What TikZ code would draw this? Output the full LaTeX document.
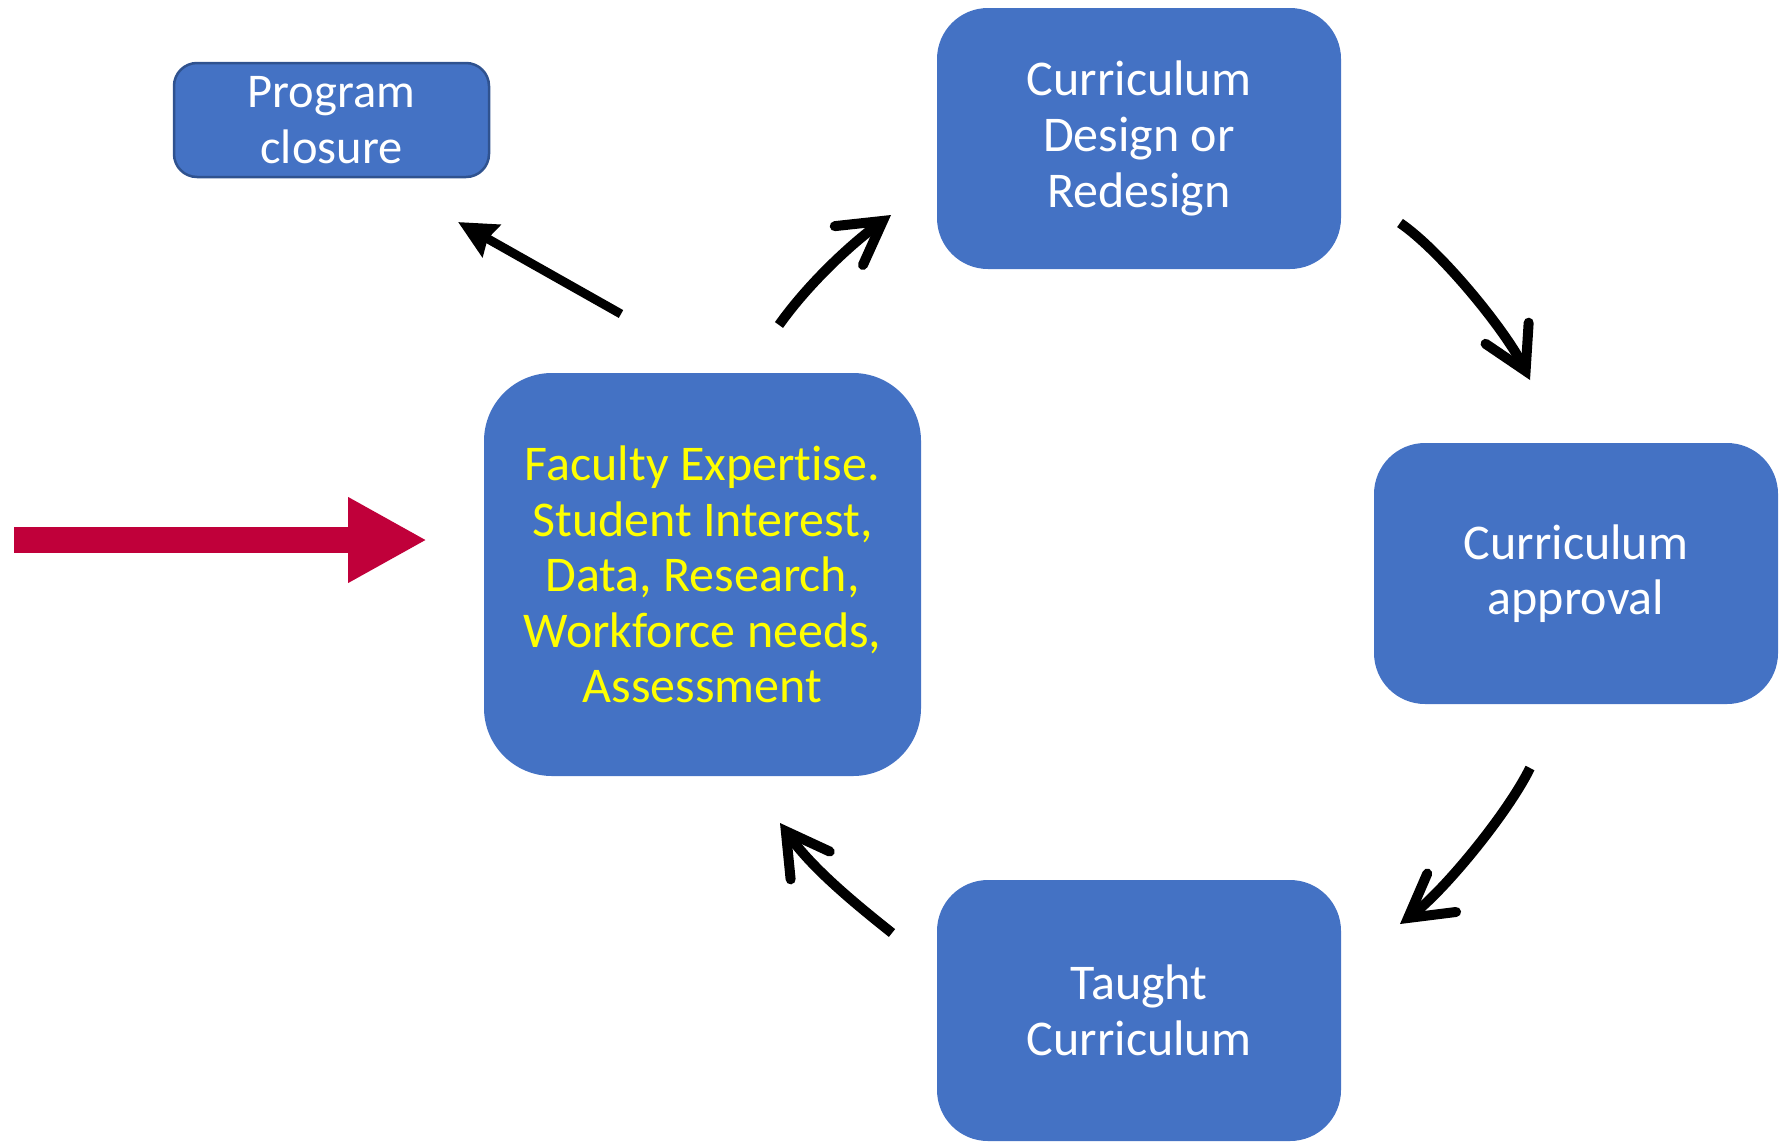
\documentclass[tikz,border=0pt]{standalone}
\usepackage{fontspec}
\setmainfont{Carlito}[Ligatures=NoCommon]
\usetikzlibrary{arrows.meta}
\definecolor{boxblue}{HTML}{4472C4}
\definecolor{boxedge}{HTML}{2F528F}
\definecolor{txtyellow}{HTML}{FFFF00}
\definecolor{crimson}{RGB}{192,0,58}
\tikzset{
  box/.style={rectangle, fill=boxblue, draw=none, inner sep=0pt, align=center,
    text=white, font={\fontsize{50}{55.6}\selectfont}},
  cyc/.style={line width=10pt, draw=black,
    -{Straight Barb[length=42pt,width=48pt,line cap=round,line join=miter]}},
  closearrow/.style={line width=9pt, draw=black, -{Stealth[length=38pt,width=36pt,inset=4pt]}},
  inarrow/.style={line width=26pt, draw=crimson, -{Triangle[length=79pt,width=80pt]}}
}
\begin{document}
\begin{tikzpicture}[x=1pt,y=1pt]
\useasboundingbox (0,0) rectangle (1787,-1141);
% boxes
\node[box, rounded corners=23pt, draw=boxedge, line width=2.5pt,
  minimum width=315pt, minimum height=114pt, font={\fontsize{48.5}{56}\selectfont}]
  (closure) at (331.5,-120) {Program\\closure};
\node[box, rounded corners=51pt, minimum width=404pt, minimum height=261pt]
  (design) at (1139,-138.5) {Curriculum\\Design or\\Redesign};
\node[box, rounded corners=68pt, minimum width=437pt, minimum height=403pt, text=txtyellow]
  (faculty) at (702.5,-574.5) {Faculty Expertise.\\Student Interest,\\Data, Research,\\Workforce needs,\\Assessment};
\node[box, rounded corners=51pt, minimum width=404pt, minimum height=261pt]
  (approval) at (1576,-573.5) {Curriculum\\approval};
\node[box, rounded corners=51pt, minimum width=404pt, minimum height=261pt]
  (taught) at (1139,-1010.5) {Taught\\Curriculum};
% arrow end points
\coordinate (a1s) at (779,-325);
\coordinate (a1e) at (891,-215);
\coordinate (a2s) at (1400,-223);
\coordinate (a2e) at (1530,-380);
\coordinate (a3s) at (1530,-768);
\coordinate (a3e) at (1400,-924);
\coordinate (a4s) at (892,-933);
\coordinate (a4e) at (780,-823);
\coordinate (a5s) at (621,-314);
\coordinate (a5e) at (458,-222);
\coordinate (a6s) at (14,-540);
\coordinate (a6e) at (427,-540);
% connectors
\draw[cyc] (a1s) .. controls (808,-284) and (851,-244) .. (a1e);
\draw[cyc] (a2s) .. controls (1441,-251) and (1506,-331) .. (a2e);
\draw[cyc] (a3s) .. controls (1508,-813) and (1444,-891) .. (a3e);
\draw[cyc] (a4s) .. controls (853,-902) and (812,-868) .. (a4e);
\draw[closearrow] (a5s) -- (a5e);
\draw[inarrow] (a6s) -- (a6e);
\end{tikzpicture}
\end{document}
